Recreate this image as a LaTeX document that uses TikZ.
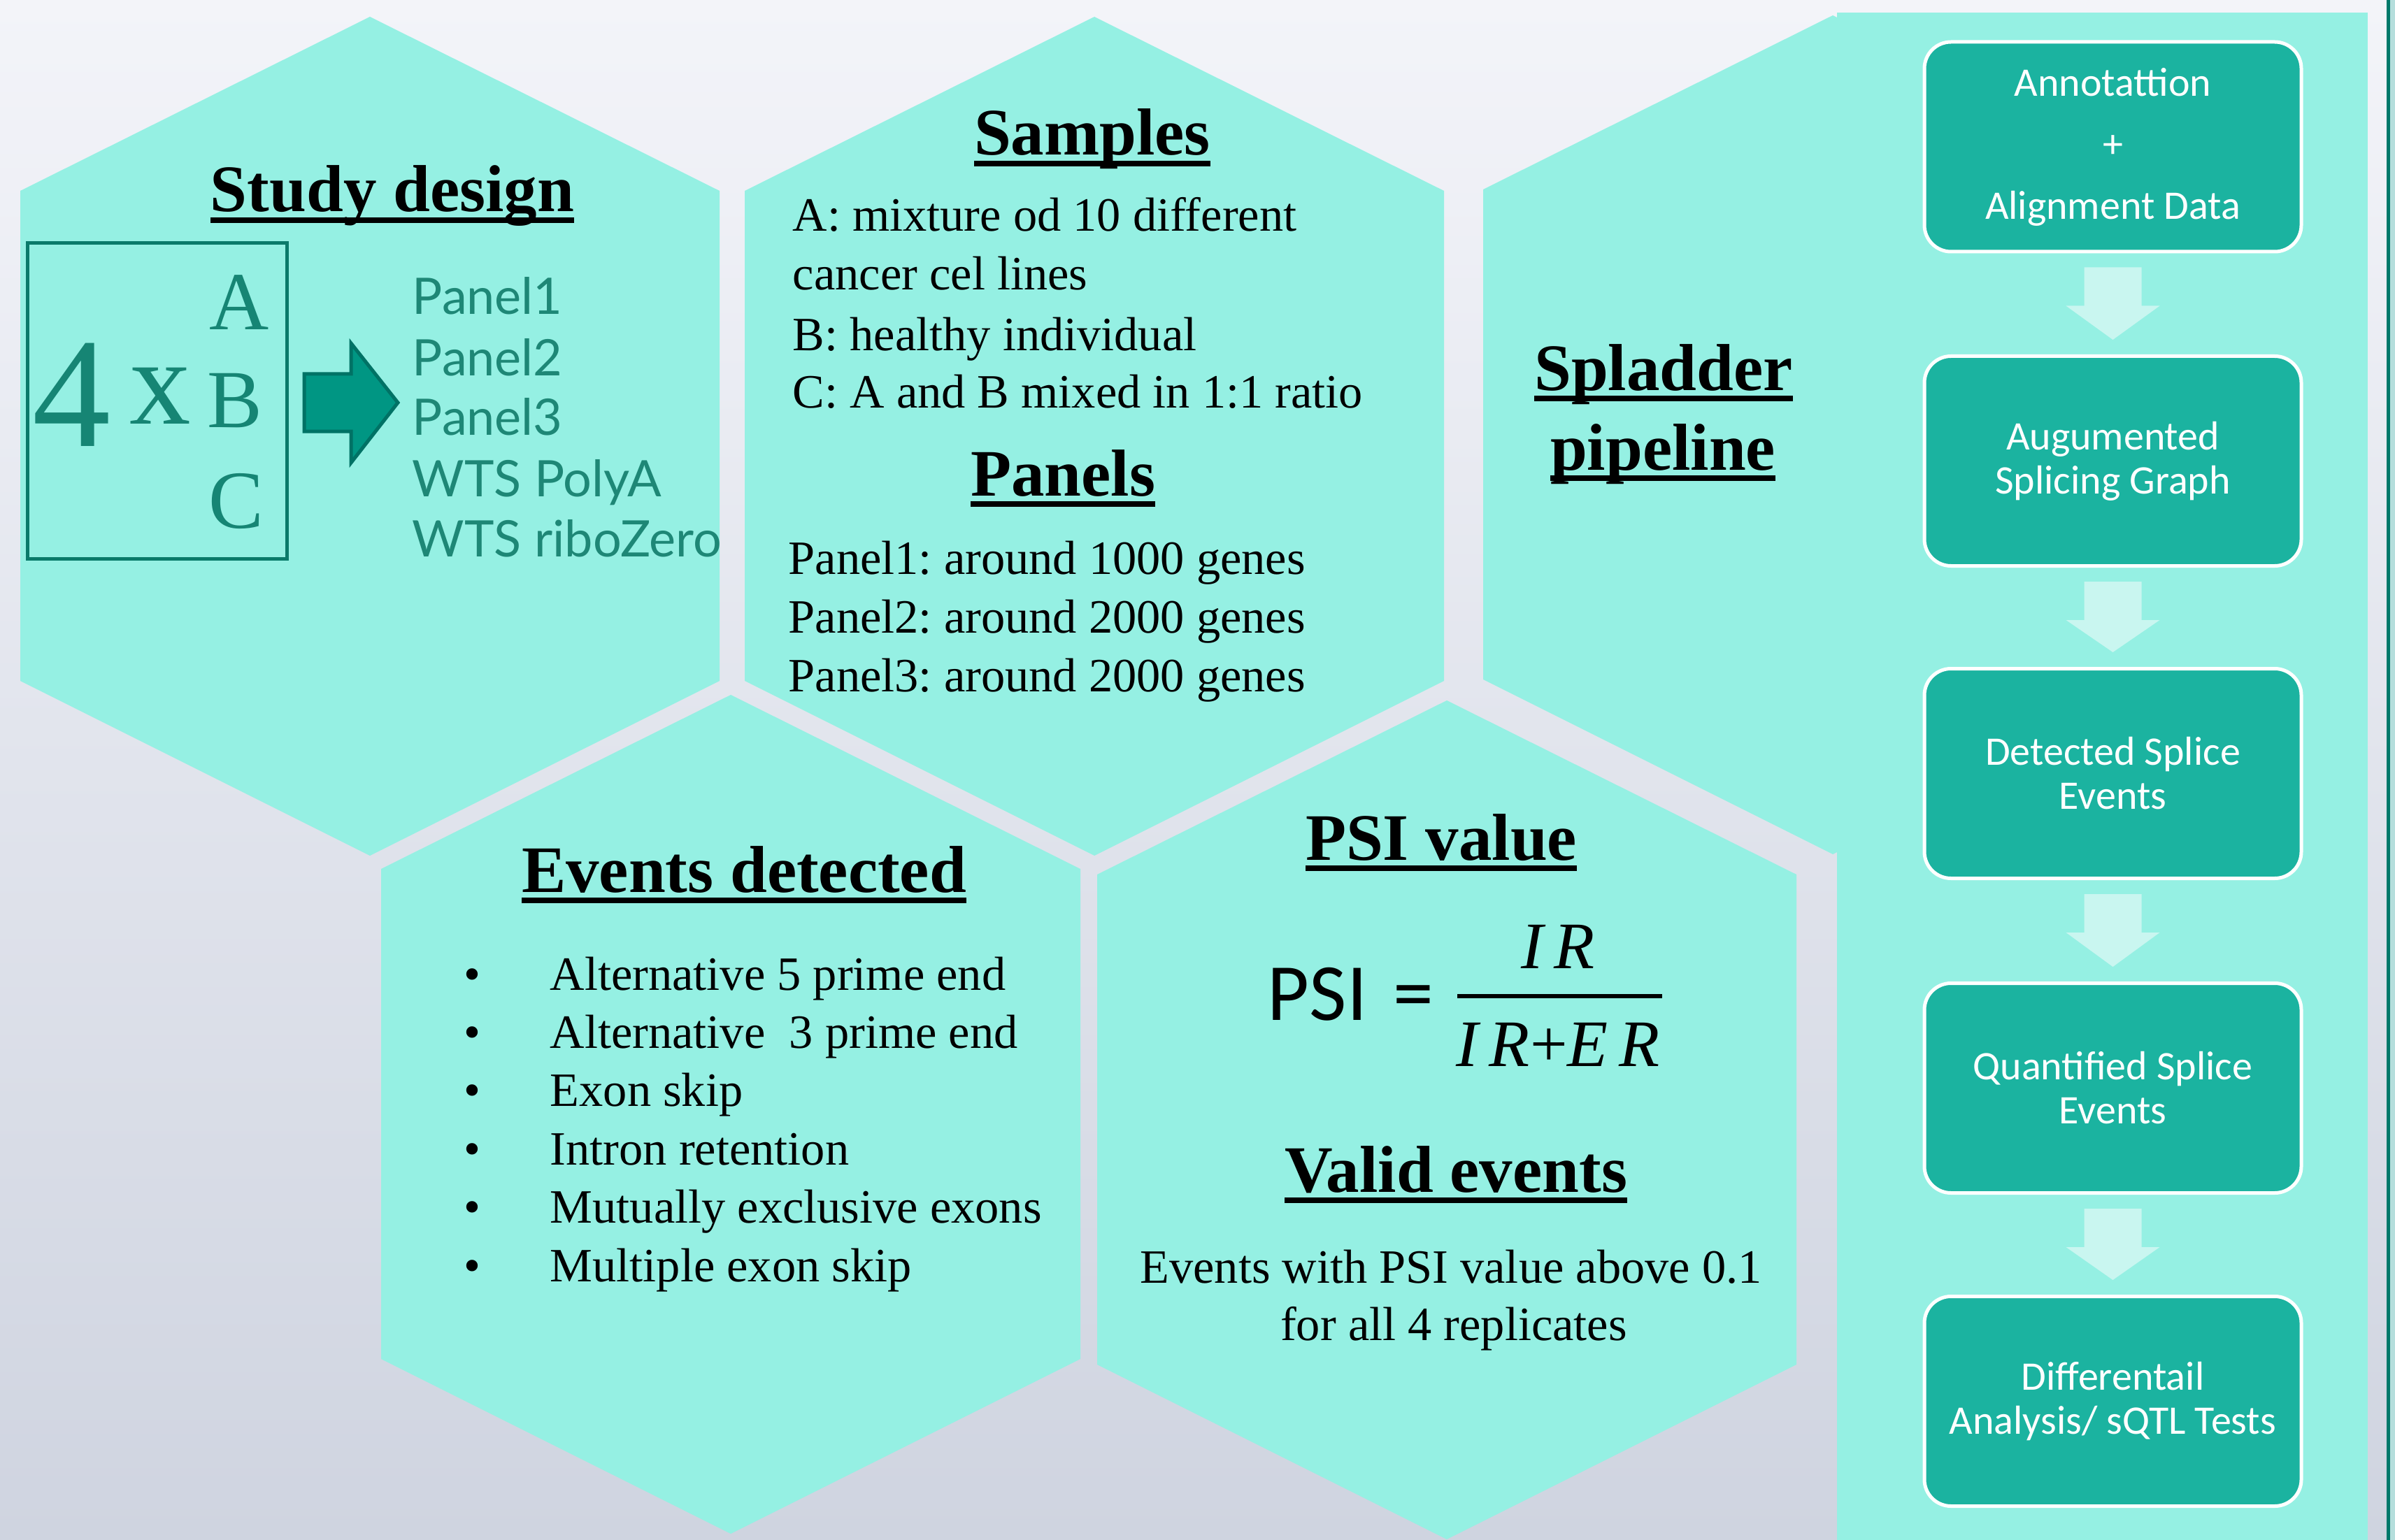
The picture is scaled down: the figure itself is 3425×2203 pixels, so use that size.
\documentclass[tikz,border=0pt]{standalone}
\usepackage{fontspec}
\setmainfont{Liberation Serif}
\newfontfamily\calibfont{Carlito}
\newfontfamily\avfont{Lato}
\usetikzlibrary{calc}
\frenchspacing
\definecolor{bgtop}{HTML}{F3F4F9}
\definecolor{bgbot}{HTML}{CFD4E0}
\definecolor{hexc}{HTML}{95F0E3}
\definecolor{boxc}{HTML}{1BB3A0}
\definecolor{arrowc}{HTML}{C9F6F0}
\definecolor{tealtext}{HTML}{168574}
\definecolor{listtext}{HTML}{1E8776}
\definecolor{rectline}{HTML}{0A7A6A}
\definecolor{bigarrow}{HTML}{009683}
\definecolor{bigarrowline}{HTML}{007265}
\definecolor{darkline}{HTML}{00796B}
\definecolor{edgestrip}{HTML}{B5DEDC}
\newcommand\ulbox[1]{\setbox0\hbox{#1}\rlap{\rule[-4pt]{\wd0}{2pt}}\box0}
\tikzset{
  hexa/.pic={\fill[hexc] (0,0) -- (500,249) -- (500,950) -- (0,1200) -- (-500,950) -- (-500,249) -- cycle;},
  titletext/.style={anchor=base, inner sep=0pt, font=\fontsize{23.75}{28}\selectfont\bfseries},
  bodyl/.style={anchor=base west, inner sep=0pt, font=\fontsize{17.1}{21}\selectfont},
  bodyc/.style={anchor=base, inner sep=0pt, font=\fontsize{17.1}{21}\selectfont},
  listl/.style={anchor=base west, inner sep=0pt, text=listtext, font=\avfont\fontsize{18}{21}\selectfont},
  abc/.style={anchor=base, inner sep=0pt, text=tealtext, font=\fontsize{29.5}{30}\selectfont},
  pipebox/.style={draw=white, line width=1.25pt, fill=boxc, rounded corners=9.5pt,
    minimum width=134.75pt, minimum height=75pt, align=center, text=white, inner sep=0pt,
    font=\calibfont\fontsize{14.5}{15.75}\selectfont},
  downarrow/.style={fill=arrowc}
}
\begin{document}
\begin{tikzpicture}[x=0.25pt,y=-0.25pt]
\useasboundingbox (0,0) rectangle (3425,2203);
\shade[top color=bgtop, bottom color=bgbot] (0,0) rectangle (3425,2203);
% hexagons
\pic at (529,24) {hexa};
\pic at (1565,24) {hexa};
\pic at (2621,22) {hexa};
\pic at (1045,994) {hexa};
\pic at (2069,1002) {hexa};
% right panel
\fill[hexc] (2627,18) rectangle (3386,2203);
\fill[darkline] (3413,0) rectangle (3418,2203);
\fill[edgestrip] (3418,0) rectangle (3425,2203);

% ---- Study design
\node[titletext] (tsd) at (561,303) {\ulbox{Study design}};
\draw[rectline, line width=1.25pt] (39,348) rectangle (410,799);
\node[anchor=base west, inner sep=0pt, text=tealtext, font=\fontsize{56}{56}\selectfont] (four) at (46,638) {4};
\node[anchor=base, inner sep=0pt, text=tealtext, font=\fontsize{43.75}{44}\selectfont] (times) at (229,606) {x};
\node[abc] (la) at (342,472) {A};
\node[abc] (lb) at (336,612) {B};
\node[abc] (lc) at (338,755) {C};
\fill[bigarrow, draw=bigarrowline, line width=1.25pt] (435,535) -- (502,535) -- (502,491) -- (569,576) -- (502,662) -- (502,617) -- (435,617) -- cycle;
\node[listl] (p1) at (589,450) {Panel1};
\node[listl] (p2) at (589,538) {Panel2};
\node[listl] (p3) at (589,622) {Panel3};
\node[listl] (p4) at (589,710) {WTS PolyA};
\node[listl] (p5) at (589,796) {WTS riboZero};

% ---- Samples
\node[titletext] (tsa) at (1562,222) {\ulbox{Samples}};
\node[bodyl] (s1) at (1133,331) {A: mixture od 10 different};
\node[bodyl] (s2) at (1133,415) {cancer cel lines};
\node[bodyl] (s3) at (1133,501) {B: healthy individual};
\node[bodyl] (s4) at (1133,584) {C: A and B mixed in 1:1 ratio};
\node[titletext] (tpa) at (1520,709) {\ulbox{Panels}};
\node[bodyl] (g1) at (1127,821) {Panel1: around 1000 genes};
\node[bodyl] (g2) at (1127,905) {Panel2: around 2000 genes};
\node[bodyl] (g3) at (1127,989) {Panel3: around 2000 genes};

% ---- Spladder
\node[titletext] (tsp1) at (2379,558) {\ulbox{Spladder}};
\node[titletext] (tsp2) at (2378,672) {\ulbox{pipeline}};

% ---- Events detected
\node[titletext] (tev) at (1064,1276) {\ulbox{Events detected}};
\foreach \t [count=\i] in {Alternative 5 prime end, Alternative\ \ 3 prime end, Exon skip, Intron retention, Mutually exclusive exons, Multiple exon skip} {
  \pgfmathsetmacro\yy{1416+83.4*(\i-1)}
  \node[bodyc] (bu\i) at (675,\yy) {\textbullet};
  \node[bodyl] (ev\i) at (786,\yy) {\t};
}

% ---- PSI value
\node[titletext] (tpsi) at (2061,1230) {\ulbox{PSI value}};
\node[anchor=base west, inner sep=0pt, font=\calibfont\fontsize{29}{30}\selectfont] (psi) at (1812,1459) {PSI};
\node[anchor=base, inner sep=0pt, font=\calibfont\fontsize{29}{30}\selectfont] (eq) at (2021,1459) {=};
\draw[line width=1.5pt] (2084,1425) -- (2377,1425);
\node[anchor=base, inner sep=0pt, font=\fontsize{23.75}{24}\selectfont\itshape] (num) at (2228,1385) {I\,R};
\node[anchor=base, inner sep=0pt, font=\fontsize{23.75}{24}\selectfont\itshape] (den) at (2228,1525) {I\,R{\upshape+}E\,R};
\node[titletext] (tva) at (2082,1705) {\ulbox{Valid events}};
\node[bodyc] (v1) at (2075,1835) {Events with PSI value above 0.1};
\node[bodyc] (v2) at (2079,1917) {for all 4 replicates};

% ---- pipeline boxes
\node[pipebox, font=\calibfont\fontsize{14.5}{22}\selectfont] (b1) at (3021.5,210) {Annotattion\\+\\Alignment Data};
\node[pipebox] (b2) at (3021.5,659.5) {Augumented\\Splicing Graph};
\node[pipebox] (b3) at (3021.5,1106.5) {Detected Splice\\Events};
\node[pipebox] (b4) at (3021.5,1556.5) {Quantified Splice\\Events};
\node[pipebox] (b5) at (3021.5,2004.5) {Differentail\\Analysis/ sQTL Tests};
\foreach \a/\b in {b1/b2,b2/b3,b3/b4,b4/b5} {
  \fill[downarrow] ($(\a.south)+(-41,20)$) -- ($(\a.south)+(41,20)$) -- ($(\a.south)+(41,75)$) -- ($(\a.south)+(67,75)$) -- ($(\b.north)+(0,-21)$) -- ($(\a.south)+(-67,75)$) -- ($(\a.south)+(-41,75)$) -- cycle;
}
\end{tikzpicture}
\end{document}
